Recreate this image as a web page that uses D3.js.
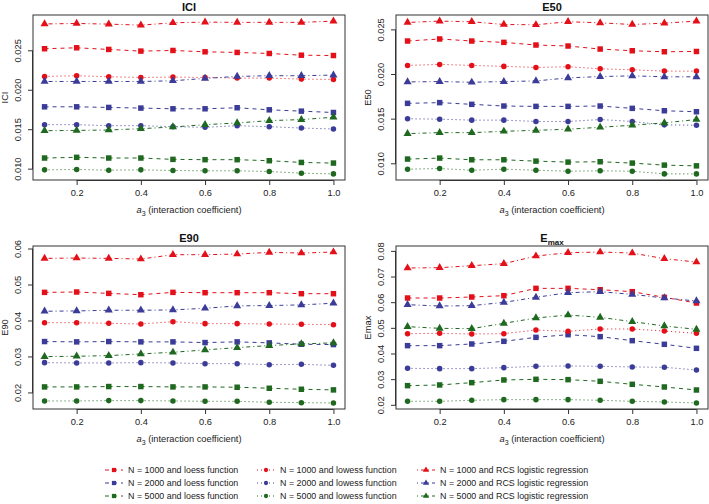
<!DOCTYPE html>
<html><head><meta charset="utf-8">
<script src="https://cdn.jsdelivr.net/npm/d3@7"></script>
<style>
body{margin:0;background:#fff;}
svg{font-family:"Liberation Sans",Arial,sans-serif;}
</style></head><body>
<svg id="chart" width="709" height="504"></svg>
<script>
// ---------------- data ----------------
const a3 = [0.1,0.2,0.3,0.4,0.5,0.6,0.7,0.8,0.9,1.0];
const xTicks = [0.2,0.4,0.6,0.8,1.0];

const ICI = {
  loess1000: [0.02526,0.02538,0.02517,0.02496,0.02504,0.02487,0.02479,0.02466,0.02444,0.0244],
  loess2000: [0.0179,0.0179,0.01782,0.01774,0.01765,0.01765,0.01778,0.01752,0.01735,0.01718],
  loess5000: [0.01141,0.0115,0.01141,0.01141,0.01124,0.0112,0.0112,0.01107,0.01085,0.01077],
  lowess1000:[0.02175,0.02184,0.02171,0.02162,0.02167,0.02162,0.02154,0.02154,0.02141,0.02137],
  lowess2000:[0.01564,0.01564,0.01551,0.01551,0.01538,0.0153,0.01551,0.01538,0.01521,0.01509],
  lowess5000:[0.00991,0.00996,0.00987,0.00991,0.00983,0.00979,0.00979,0.0097,0.00949,0.0094],
  rcs1000:   [0.0284,0.02846,0.02838,0.02825,0.02855,0.02863,0.0286,0.0286,0.0286,0.02876],
  rcs2000:   [0.02111,0.02111,0.02111,0.02111,0.0212,0.0215,0.02175,0.02184,0.02184,0.02192],
  rcs5000:   [0.01487,0.01491,0.01496,0.01513,0.01534,0.01564,0.01585,0.01615,0.01628,0.01658]
};
const E50 = {
  loess1000: [0.02375,0.02398,0.02375,0.0236,0.0233,0.02319,0.02285,0.02266,0.02255,0.02258],
  loess2000: [0.01677,0.01685,0.01666,0.01647,0.01643,0.01643,0.01647,0.01621,0.01594,0.01583],
  loess5000: [0.01053,0.01064,0.01045,0.01045,0.0103,0.01019,0.01023,0.01008,0.00985,0.00977],
  lowess1000:[0.02102,0.02113,0.02102,0.02091,0.02079,0.02087,0.02064,0.02053,0.02038,0.02038],
  lowess2000:[0.01504,0.015,0.01489,0.01489,0.01474,0.01474,0.01496,0.01474,0.01436,0.01432],
  lowess5000:[0.0094,0.00947,0.00928,0.0094,0.00928,0.00917,0.00921,0.00917,0.00887,0.00887],
  rcs1000:   [0.02583,0.02598,0.02591,0.0256,0.02557,0.02591,0.02579,0.0256,0.02575,0.02598],
  rcs2000:   [0.01917,0.01921,0.01913,0.01921,0.01928,0.01962,0.01977,0.01985,0.01974,0.01974],
  rcs5000:   [0.01338,0.01349,0.01349,0.01364,0.01375,0.01387,0.01409,0.01432,0.01458,0.01496]
};
const E90 = {
  loess1000: [0.04795,0.04805,0.04767,0.0473,0.04795,0.04786,0.04786,0.04786,0.04758,0.04758],
  loess2000: [0.03428,0.03419,0.03428,0.03419,0.03419,0.034,0.03419,0.03391,0.03353,0.03344],
  loess5000: [0.02167,0.02167,0.02177,0.02177,0.02167,0.02167,0.02158,0.0213,0.02102,0.02084],
  lowess1000:[0.03953,0.03953,0.03935,0.03916,0.03981,0.03926,0.03926,0.03916,0.03907,0.03898],
  lowess2000:[0.02842,0.02833,0.02833,0.02842,0.02833,0.02814,0.02814,0.02786,0.02795,0.02767],
  lowess5000:[0.01777,0.01777,0.01786,0.01786,0.01777,0.01767,0.01767,0.0174,0.0173,0.01721],
  rcs1000:   [0.0574,0.05749,0.0574,0.05721,0.05842,0.05842,0.0586,0.05907,0.05888,0.05916],
  rcs2000:   [0.0427,0.04279,0.04298,0.04298,0.04307,0.04353,0.04419,0.04428,0.04447,0.04493],
  rcs5000:   [0.03009,0.03019,0.03037,0.03084,0.0313,0.03195,0.0326,0.03316,0.03363,0.03391]
};
const EMAX = {
  loess1000: [0.06182,0.06182,0.06221,0.06273,0.06558,0.06558,0.06506,0.06429,0.06208,0.05987],
  loess2000: [0.04325,0.04325,0.0439,0.04494,0.04649,0.04753,0.04675,0.0452,0.04377,0.04221],
  loess5000: [0.02766,0.02792,0.02883,0.02987,0.03013,0.03,0.02935,0.02818,0.02714,0.02597],
  lowess1000:[0.04792,0.04805,0.04779,0.04792,0.04935,0.04883,0.04974,0.04974,0.04896,0.04805],
  lowess2000:[0.03442,0.03429,0.03429,0.03468,0.03519,0.03532,0.03519,0.03494,0.03481,0.03377],
  lowess5000:[0.02156,0.02156,0.02195,0.02221,0.02221,0.02221,0.02195,0.02156,0.0213,0.02091],
  rcs1000:   [0.07351,0.07364,0.07442,0.0752,0.07818,0.07948,0.07974,0.07935,0.07714,0.07584],
  rcs2000:   [0.05922,0.0587,0.05883,0.06013,0.06208,0.0639,0.06429,0.06325,0.06182,0.06065],
  rcs5000:   [0.05065,0.05,0.04987,0.05195,0.05403,0.05519,0.05429,0.0526,0.05091,0.04961]
};

const iciTicks  = [0.010,0.015,0.020,0.025];
const e50Ticks  = [0.010,0.015,0.020,0.025];
const e90Ticks  = [0.02,0.03,0.04,0.05,0.06];
const emaxTicks = [0.02,0.03,0.04,0.05,0.06,0.07,0.08];

const sampleSizes = [1000,2000,5000];
const methods = ["loess","lowess","rcs"];
const methodLabels = {loess:"loess function", lowess:"lowess function", rcs:"RCS logistic regression"};

// ---------------- styles ----------------
const colors = {1000:"#e3101a", 2000:"#3b3b98", 5000:"#1f681f"};
const dashes = {loess:"4,4", lowess:"1,3", rcs:"1,3,4,3"};
const shapes = {loess:d3.symbolSquare, lowess:d3.symbolCircle, rcs:d3.symbolTriangle};
const sizes  = {loess:30, lowess:24, rcs:28};

const svg = d3.select("#chart");

const panels = [
  {title:"ICI", ylab:"ICI", data:ICI, ticks:iciTicks, fmt:".3f", x0:33, x1:345, y0:15, y1:180},
  {title:"E50", ylab:"E50", data:E50, ticks:e50Ticks, fmt:".3f", x0:396, x1:708, y0:15, y1:180},
  {title:"E90", ylab:"E90", data:E90, ticks:e90Ticks, fmt:".2f", x0:33, x1:345, y0:246, y1:409},
  {title:"Emax", ylab:"Emax", data:EMAX, ticks:emaxTicks, fmt:".2f", x0:396, x1:708, y0:246, y1:409, sub:true}
];

function padExtent(ext){ const r=ext[1]-ext[0]; return [ext[0]-0.04*r, ext[1]+0.04*r]; }

panels.forEach(p=>{
  const g = svg.append("g");
  const xs = d3.scaleLinear().domain(padExtent(d3.extent(a3))).range([p.x0,p.x1]);
  const all = Object.values(p.data).flat();
  const ys = d3.scaleLinear().domain(padExtent(d3.extent(all))).range([p.y1,p.y0]);

  g.append("rect").attr("x",p.x0).attr("y",p.y0).attr("width",p.x1-p.x0).attr("height",p.y1-p.y0)
    .attr("fill","none").attr("stroke","#333").attr("stroke-width",1);

  const xa = g.append("g").attr("transform",`translate(0,${p.y1})`)
    .call(d3.axisBottom(xs).tickValues(xTicks).tickFormat(d3.format(".1f")).tickSize(5).tickPadding(4));
  xa.select(".domain").attr("d",`M${xs(xTicks[0])},0.5H${xs(xTicks[xTicks.length-1])}`).attr("stroke","#333");
  xa.selectAll("line").attr("stroke","#333");
  xa.selectAll("text").attr("font-size",9.3).attr("fill","#222").attr("font-family","Liberation Sans, Arial, sans-serif");

  const ya = g.append("g").attr("transform",`translate(${p.x0},0)`)
    .call(d3.axisLeft(ys).tickValues(p.ticks).tickFormat(d3.format(p.fmt)).tickSize(5).tickPadding(4));
  ya.select(".domain").attr("d",`M-0.5,${ys(p.ticks[0])}V${ys(p.ticks[p.ticks.length-1])}`).attr("stroke","#333");
  ya.selectAll("line").attr("stroke","#333");
  ya.selectAll("text").attr("font-size",9.3).attr("fill","#222").attr("font-family","Liberation Sans, Arial, sans-serif")
    .attr("text-anchor","middle").attr("x",-12).attr("dy","0")
    .attr("transform",d=>`rotate(-90,-12,${ys(d)})`)
    .attr("y",d=>ys(d));
  ya.selectAll(".tick").attr("transform",null);
  ya.selectAll(".tick line").attr("transform",d=>`translate(0,${ys(d)})`);

  const t = g.append("text").attr("x",(p.x0+p.x1)/2).attr("y",p.y0-4).attr("text-anchor","middle")
    .attr("font-weight","bold").attr("font-size",11).attr("fill","#111");
  if(p.sub){ t.append("tspan").text("E"); t.append("tspan").attr("font-size",8).attr("dy",3).text("max"); }
  else t.text(p.title);

  const xl = g.append("text").attr("x",(p.x0+p.x1)/2).attr("y",p.y1+33).attr("text-anchor","middle")
    .attr("font-size",9.3).attr("fill","#222");
  xl.append("tspan").attr("font-style","italic").text("a");
  xl.append("tspan").attr("font-size",7).attr("dy",3).text("3");
  xl.append("tspan").attr("dy",-3).text(" (interaction coefficient)");

  g.append("text").attr("transform",`translate(${p.x0-25},${(p.y0+p.y1)/2}) rotate(-90)`)
    .attr("text-anchor","middle").attr("font-size",9.3).attr("fill","#222").text(p.ylab);

  const line = d3.line().x((d,i)=>xs(a3[i])).y(d=>ys(d));
  methods.forEach(m=>{
    sampleSizes.forEach(n=>{
      const vals = p.data[m+n];
      g.append("path").attr("d",line(vals)).attr("fill","none").attr("stroke",colors[n])
        .attr("stroke-width",1).attr("stroke-dasharray",dashes[m]);
      g.selectAll(null).data(vals).enter().append("path")
        .attr("d",d3.symbol().type(shapes[m]).size(sizes[m]))
        .attr("transform",(d,i)=>`translate(${xs(a3[i])},${ys(d)})`)
        .attr("fill",colors[n]);
    });
  });
});

// ---------------- legend ----------------
const legX = [105,257,417];
const legY = [470,483,496];
const leg = svg.append("g");
methods.forEach((m,ci)=>{
  sampleSizes.forEach((n,ri)=>{
    const x=legX[ci], y=legY[ri];
    leg.append("line").attr("x1",x).attr("x2",x+18).attr("y1",y).attr("y2",y)
      .attr("stroke",colors[n]).attr("stroke-width",1).attr("stroke-dasharray",dashes[m]);
    leg.append("path").attr("d",d3.symbol().type(shapes[m]).size(sizes[m]*0.6)())
      .attr("transform",`translate(${x+9},${y})`).attr("fill",colors[n]);
    leg.append("text").attr("x",x+23).attr("y",y+3.3).attr("font-size",8.9).attr("fill","#222")
      .text(`N = ${n} and ${methodLabels[m]}`);
  });
});
</script></body></html>
